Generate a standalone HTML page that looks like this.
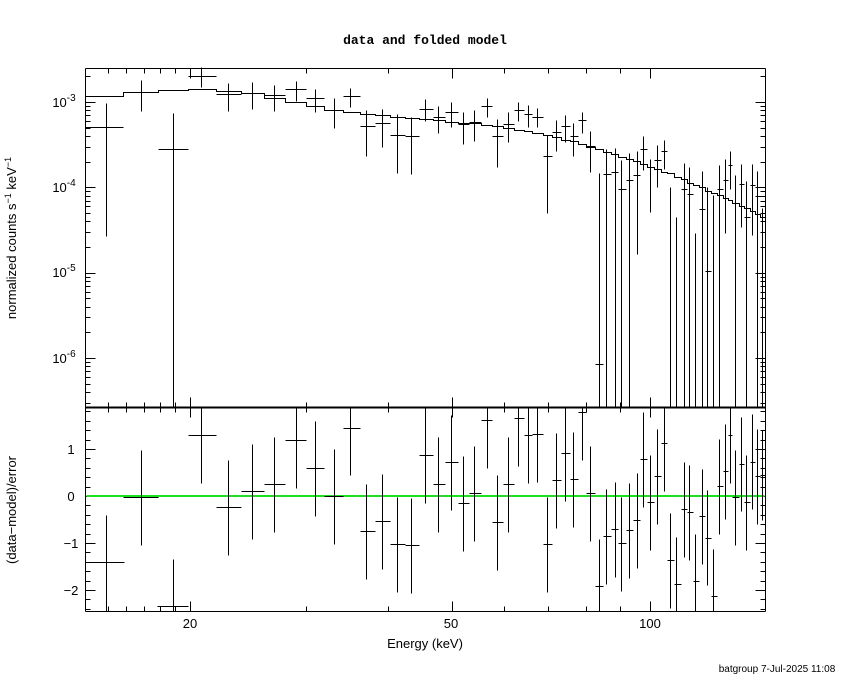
<!DOCTYPE html>
<html><head><meta charset="utf-8"><style>
body{margin:0;background:#fff;}
svg{display:block;font-family:"Liberation Sans",sans-serif;}
</style></head><body>
<svg id="s" width="850" height="680" xmlns="http://www.w3.org/2000/svg">
<rect width="850" height="680" fill="#fff"/>
<text x="425" y="44" text-anchor="middle" font-family="Liberation Mono,monospace" font-weight="bold" font-size="13">data and folded model</text>
<text x="425" y="648" text-anchor="middle" font-size="13">Energy (keV)</text>
<text x="777" y="672" text-anchor="middle" font-size="10">batgroup  7-Jul-2025 11:08</text>
<text transform="translate(16,238) rotate(-90)" text-anchor="middle" font-size="13">normalized counts s<tspan dy="-5" font-size="9">−1</tspan><tspan dy="5"> keV</tspan><tspan dy="-5" font-size="9">−1</tspan></text>
<text transform="translate(16,510) rotate(-90)" text-anchor="middle" font-size="13">(data−model)/error</text>
<g id="g" stroke="#000" fill="none" stroke-width="1" shape-rendering="crispEdges" transform="translate(0.5,0.5)"></g>
</svg>
<script>
var g=document.getElementById('g'),s=document.getElementById('s');
function L(x1,y1,x2,y2,w,c){var e=document.createElementNS('http://www.w3.org/2000/svg','line');e.setAttribute('x1',x1);e.setAttribute('y1',y1);e.setAttribute('x2',x2);e.setAttribute('y2',y2);if(w)e.setAttribute('stroke-width',w);if(c)e.setAttribute('stroke',c);g.appendChild(e);}
function T(x,y,t,a,sup){var e=document.createElementNS('http://www.w3.org/2000/svg','text');e.setAttribute('x',x);e.setAttribute('y',y);e.setAttribute('font-size','13');e.setAttribute('text-anchor',a||'middle');e.innerHTML=t;s.appendChild(e);}
var X0=85,X1=765,T0=68,M=407,B=611;
L(X0,T0,X1,T0);L(X0,T0,X0,B);L(X1,T0,X1,B);L(X0,B,X1,B);L(X0,M,X1,M,2);
function xe(E){return Math.round(190+658*Math.log10(E/20));}
var xt=[15,16,17,18,19,20,30,40,50,60,70,80,90,100];
xt.forEach(function(E){var x=xe(E),big=(E==20||E==50||E==100);var l=big?10:5;
 L(x,T0,x,T0+l);L(x,M,x,M-l);L(x,M,x,M+l);L(x,B,x,B-l);});
T(190,628,'20');T(451,628,'50');T(650,628,'100');
function yl(v){return Math.round(102-85.3*Math.log10(v/1e-3));}
for(var d=-7;d<=-3;d++){for(var m=1;m<10;m++){var v=m*Math.pow(10,d),y=yl(v);if(y<T0||y>M)continue;var l=m==1?10:5;L(X0,y,X0+l,y);L(X1,y,X1-l,y);}}
[[-3,102],[-4,187],[-5,272],[-6,358]].forEach(function(p){T(64,p[1]+5,'10<tspan dy="-6" font-size="10">'+p[0]+'</tspan>','middle');});
for(var r=-2.4;r<=1.8;r+=0.2){var rr=Math.round(r*10)/10;var y=Math.round(496-47*rr);if(y>B||y<M)continue;var big=Math.abs(rr-Math.round(rr))<0.01;var l=big?10:5;L(X0,y,X0+l,y);L(X1,y,X1-l,y);}
[[1,'1'],[0,'0'],[-1,'−1'],[-2,'−2']].forEach(function(p){T(71,496-47*p[0]+5,p[1],'middle');});
var md=[[85,123,96],[123,158,92],[158,188,90],[188,216,89],[216,241,91],[241,264,93],[264,285,98],[285,306,102],[306,324,106],[324,343,110],[343,360,112],[360,375,114],[375,390,115],[390,405,117],[405,419,118],[419,433,119],[433,445,120],[445,458,122],[458,469,123],[469,481,123],[481,492,125],[492,503,126],[503,514,128],[514,524,130],[524,532,131],[532,543,133],[543,552,135],[552,561,137],[561,570,140],[570,578,141],[578,586,144],[586,595,147],[595,603,149],[603,611,152],[611,618,154],[618,626,157],[626,633,159],[633,640,161],[640,647,164],[647,654,167],[654,661,169],[661,667,172],[667,674,173],[674,681,177],[681,687,179],[687,693,183],[693,699,185],[699,705,187],[705,711,191],[711,717,193],[717,723,195],[723,728,198],[728,732,200],[732,739,203],[739,744,206],[744,750,208],[750,755,211],[755,760,214],[760,765,217]];
var pd='';md.forEach(function(m,i){pd+=(i?'L':'M')+m[0]+' '+m[2]+'L'+m[1]+' '+m[2];});
var p=document.createElementNS('http://www.w3.org/2000/svg','path');p.setAttribute('d',pd);p.setAttribute('stroke-width','1');g.appendChild(p);
var td=[[106,85,123,127,103,236],[141,123,158,92,80,111],[173,158,188,149,113,407],[201,188,216,76,67,87],[228,216,241,94,83,111],[252,241,264,93,82,109],[274,264,285,95,85,111],[296,285,306,89,81,101],[315,306,324,98,89,112],[334,324,343,110,98,128],[350,343,360,96,88,107],[366,360,375,126,110,156],[382,375,390,123,109,147],[397,390,405,135,114,173],[411,405,419,136,117,174],[425,419,433,109,99,121],[438,433,445,117,106,133],[451,445,458,112,102,127],[463,458,469,124,112,144],[474,469,481,122,110,141],[487,481,492,106,98,117],[497,492,503,136,119,167],[508,503,514,124,112,142],[518,514,524,110,102,121],[528,524,532,114,105,127],[537,532,543,117,108,127],[547,543,552,156,135,213],[556,552,561,132,120,151],[565,561,570,126,115,142],[573,570,578,136,123,156],[582,578,586,120,112,133],[590,586,595,146,131,172],[599,595,603,364,173,407],[606,603,611,174,149,407],[615,611,618,172,148,407],[621,618,626,189,160,407],[629,626,633,180,153,407],[637,633,640,175,151,254],[643,640,647,149,136,170],[650,647,654,167,159,212],[657,654,661,160,145,187],[664,661,667,151,140,169],[670,667,674,0,187,407],[676,674,681,0,217,407],[684,681,687,189,163,407],[689,687,693,194,167,407],[695,693,699,0,233,407],[702,699,705,209,171,407],[707,705,711,271,187,407],[713,711,717,0,195,407],[719,717,723,189,165,407],[725,723,728,180,159,233],[730,728,732,165,151,189],[735,732,739,0,175,407],[741,739,744,184,164,227],[746,744,750,217,181,407],[752,750,755,185,164,235],[757,755,760,196,171,407],[762,760,765,0,208,407]];
td.forEach(function(d){L(d[0],d[4],d[0],d[5]);if(d[3])L(d[1],d[3],d[2],d[3]);});
var rd=[[106,85,124,562,515,611],[141,123,158,497,450,545],[173,157,188,606,559,611],[201,188,216,435,407,483],[228,216,241,507,460,555],[252,241,264,491,444,539],[274,264,285,484,437,532],[296,285,306,440,407,488],[315,306,324,468,421,516],[334,324,343,496,449,544],[350,343,360,428,407,475],[366,360,375,531,484,579],[382,375,390,521,474,569],[397,390,405,544,497,592],[411,405,419,545,498,593],[425,419,433,455,407,503],[438,433,445,484,437,532],[451,445,458,462,415,510],[463,458,469,503,456,551],[474,469,481,493,446,541],[487,481,492,420,407,468],[497,492,503,522,475,570],[508,503,514,484,437,532],[518,514,524,418,407,466],[528,524,532,435,407,483],[537,532,543,434,407,482],[547,543,552,544,497,592],[556,552,561,480,433,528],[565,561,570,453,407,501],[573,570,578,479,432,527],[582,578,586,412,407,460],[590,586,595,493,446,541],[599,595,603,586,539,611],[606,603,611,536,489,584],[615,611,618,529,482,577],[621,618,626,543,497,591],[629,626,633,530,483,578],[637,633,640,520,473,568],[643,640,647,459,412,507],[650,647,654,502,455,550],[657,654,661,476,429,524],[664,661,667,443,407,491],[670,667,674,560,513,608],[676,674,681,584,537,611],[684,681,687,509,462,557],[689,687,693,512,465,560],[695,693,699,581,534,611],[702,699,705,516,469,564],[707,705,711,538,490,585],[713,711,717,596,549,611],[719,717,723,486,439,534],[725,723,728,471,424,519],[730,728,732,435,407,483],[735,732,739,497,450,545],[741,739,744,464,417,511],[746,744,750,502,455,550],[752,750,755,462,414,509],[757,755,760,476,429,524],[762,760,765,475,430,520]];
L(X0+1,495.5,X1-1,495.5,2,'#1fe01f');
rd.forEach(function(d){L(d[0],d[4],d[0],d[5]);L(d[1],d[3],d[2],d[3]);});
</script>
</body></html>
